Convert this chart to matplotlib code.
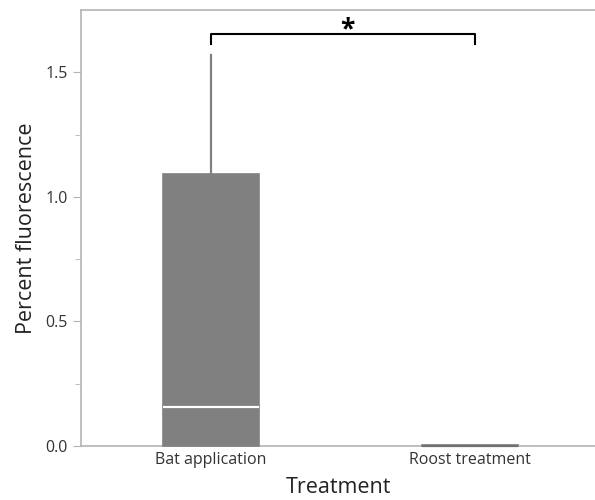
import matplotlib
matplotlib.use('Agg')
import matplotlib.pyplot as plt

plt.rcParams['font.family'] = ['Open Sans', 'DejaVu Sans']

# box summary values
groups = ['Bat application', 'Roost treatment']
q1 = [0.0, 0.0]
median = [0.155, 0.0]
q3 = [1.09, 0.004]
whisker_lo = [0.0, 0.0]
whisker_hi = [1.57, 0.004]

y_ticks = [0.0, 0.5, 1.0, 1.5]
y_minor = [0.25, 0.75, 1.25]

fig = plt.figure(figsize=(5.95, 5.0), dpi=100)
ax = fig.add_axes([0.136, 0.108, 0.864, 0.872])

stats = []
for i, g in enumerate(groups):
    stats.append(dict(label=g, q1=q1[i], med=median[i], q3=q3[i],
                      whislo=whisker_lo[i], whishi=whisker_hi[i], fliers=[]))

box_col = '#808080'
parts = ax.bxp(stats, positions=[0, 1], widths=0.37, patch_artist=True,
               showcaps=False, showfliers=False,
               boxprops=dict(facecolor=box_col, edgecolor=box_col,
                             linewidth=1.2, zorder=3),
               whiskerprops=dict(color=box_col, linewidth=1.6),
               medianprops=dict(color='white', linewidth=1.6, zorder=4))
for ln in ax.lines:
    ln.set_clip_on(False)
for p in ax.patches:
    p.set_clip_on(False)
# the all-zero group sits on the axis as a grey line
parts['medians'][1].set_color('#707070')

ax.set_xlim(-0.502, 1.483)
ax.set_ylim(0, 1.75)
ax.set_yticks(y_ticks)
ax.set_yticklabels([f'{v:.1f}' for v in y_ticks])
ax.set_yticks(y_minor, minor=True)

spine_col = '#b4b4b4'
for s in ['left', 'bottom', 'top']:
    ax.spines[s].set_color(spine_col)
    ax.spines[s].set_linewidth(1.2)
ax.spines['right'].set_visible(False)

ax.tick_params(axis='y', which='major', length=6, color=spine_col,
               labelsize=11.5, labelcolor='#333333')
ax.tick_params(axis='y', which='minor', length=4, color=spine_col)
ax.tick_params(axis='x', length=0, labelsize=11.5, labelcolor='#333333', pad=4)

ax.set_xlabel('Treatment', fontsize=15.5, color='#222222', labelpad=7)
ax.set_ylabel('Percent fluorescence', fontsize=15.5, color='#222222', labelpad=6)

# significance bracket
ax.plot([0, 0, 1.02, 1.02], [1.615, 1.655, 1.655, 1.615], color='black',
        linewidth=1.5, clip_on=False)
ax.text(0.525, 1.618, '*', ha='center', va='bottom', fontsize=19,
        fontweight='bold', color='black')

fig.savefig('out.png', dpi=100)
